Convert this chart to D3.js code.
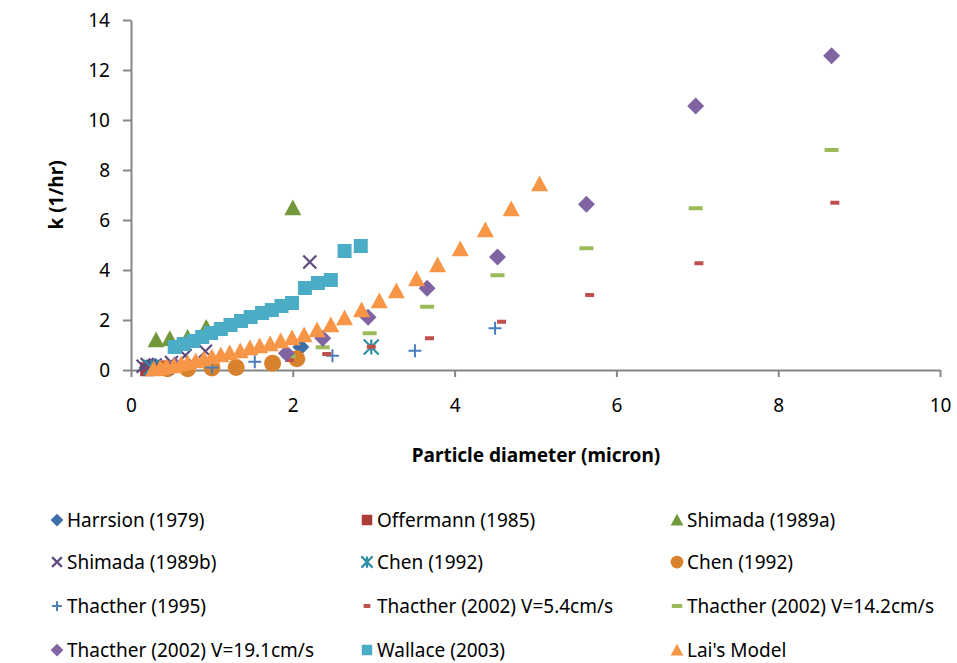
<!DOCTYPE html>
<meta charset="utf-8">
<script src="https://d3js.org/d3.v7.min.js"></script>
<title>k vs particle diameter</title>
<style>
body { margin: 0; background: #fff; font-family: "Noto Sans", Arial, sans-serif; }
.axis path, .axis line { stroke: #868686; stroke-width: 2px; }
.axis text { font-size: 19px; fill: #000; font-family: "Noto Sans", Arial, sans-serif; }
.title { font-size: 19px; font-weight: bold; fill: #000; }
.legend text { font-size: 19px; fill: #000; }
</style>
<body>
<svg id="chart" width="957" height="663"></svg>
<script>

// [particle diameter (micron), k (1/hr)]
var harrsion1979 = [[0.2, 0.1], [0.3, 0.15], [0.45, 0.1], [2.1, 0.92]];
var offermann1985 = [[0.2, 0.03], [0.28, 0.05], [0.35, 0.06], [0.45, 0.1]];
var shimada1989a = [[0.31, 1.2], [0.48, 1.25], [0.7, 1.3], [0.93, 1.7], [2.0, 6.48]];
var shimada1989b = [[0.15, 0.15], [0.2, 0.22], [0.25, 0.1], [0.3, 0.2], [0.5, 0.3], [0.67, 0.58], [0.92, 0.75], [2.21, 4.32]];
var chen1992a = [[0.25, 0.1], [2.97, 0.92]];
var chen1992b = [[0.45, 0.05], [0.7, 0.05], [1.0, 0.08], [1.3, 0.1], [1.75, 0.27], [2.05, 0.45]];
var thatcher1995 = [[0.5, 0.05], [1.0, 0.1], [1.53, 0.33], [2.49, 0.57], [3.51, 0.77], [4.5, 1.67]];
var thatcher2002v54 = [[1.96, 0.4], [2.42, 0.64], [2.97, 0.93], [3.69, 1.27], [4.58, 1.93], [5.67, 3.0], [7.02, 4.27], [8.7, 6.69]];
var thatcher2002v142 = [[1.95, 0.55], [2.37, 0.91], [2.95, 1.47], [3.66, 2.53], [4.53, 3.79], [5.63, 4.87], [6.98, 6.47], [8.66, 8.8]];
var thatcher2002v191 = [[0.54, 0.2], [1.92, 0.67], [2.37, 1.27], [2.93, 2.11], [3.66, 3.27], [4.53, 4.52], [5.63, 6.63], [6.98, 10.56], [8.66, 12.57]];
var wallace2003 = [[0.54, 0.92], [0.65, 1.04], [0.77, 1.16], [0.88, 1.32], [0.99, 1.48], [1.11, 1.64], [1.23, 1.8],
  [1.36, 1.96], [1.48, 2.12], [1.62, 2.28], [1.74, 2.4], [1.86, 2.56], [1.99, 2.68], [2.15, 3.28], [2.31, 3.48],
  [2.47, 3.6], [2.64, 4.76], [2.84, 4.96]];
var laiModel = [[0.28, 0.04], [0.36, 0.08], [0.44, 0.12], [0.53, 0.16], [0.62, 0.24], [0.7, 0.28], [0.8, 0.36],
  [0.9, 0.44], [1.0, 0.52], [1.11, 0.6], [1.22, 0.68], [1.35, 0.76], [1.47, 0.88], [1.59, 0.96], [1.72, 1.04],
  [1.85, 1.16], [1.99, 1.28], [2.14, 1.4], [2.3, 1.6], [2.47, 1.8], [2.64, 2.08], [2.85, 2.4], [3.07, 2.76],
  [3.28, 3.16], [3.53, 3.64], [3.79, 4.2], [4.07, 4.84], [4.38, 5.6], [4.7, 6.44], [5.05, 7.44]];

var xTicks = [0, 2, 4, 6, 8, 10];
var yTicks = [0, 2, 4, 6, 8, 10, 12, 14];

var series = [
  {name: "Harrsion (1979)", data: harrsion1979, shape: "diamond", color: "#3d6ea9"},
  {name: "Offermann (1985)", data: offermann1985, shape: "square", color: "#aa3b37"},
  {name: "Shimada (1989a)", data: shimada1989a, shape: "triangle", color: "#71983b"},
  {name: "Shimada (1989b)", data: shimada1989b, shape: "x", color: "#5f4a7f"},
  {name: "Chen (1992)", data: chen1992a, shape: "star", color: "#2f8fa5"},
  {name: "Chen (1992)", data: chen1992b, shape: "circle", color: "#d9822e"},
  {name: "Thacther (1995)", data: thatcher1995, shape: "plus", color: "#4a7ebb"},
  {name: "Thacther (2002) V=5.4cm/s", data: thatcher2002v54, shape: "dashS", color: "#c0504d"},
  {name: "Thacther (2002) V=14.2cm/s", data: thatcher2002v142, shape: "dashL", color: "#9bbb59"},
  {name: "Thacther (2002) V=19.1cm/s", data: thatcher2002v191, shape: "diamond", color: "#8064a2"},
  {name: "Wallace (2003)", data: wallace2003, shape: "square", color: "#4bacc6"},
  {name: "Lai's Model", data: laiModel, shape: "triangle", color: "#f79646"}
];

var svg = d3.select("#chart");

var x = d3.scaleLinear().domain([0, 10]).range([131, 940]);
var y = d3.scaleLinear().domain([0, 14]).range([370, 20]);

svg.append("g")
    .attr("class", "y axis")
    .attr("transform", "translate(" + x(0) + ",0)")
    .call(d3.axisLeft(y).tickValues(yTicks).tickSize(8).tickSizeOuter(0).tickPadding(13));

svg.append("g")
    .attr("class", "x axis")
    .attr("transform", "translate(0," + y(0) + ")")
    .call(d3.axisBottom(x).tickValues(xTicks).tickSize(7).tickSizeOuter(0).tickPadding(22));

// marker drawing, sizes in px
function drawMarker(g, shape, color, s) {
  s = s || 1;
  if (shape == "diamond") {
    var r = 8.5 * s;
    g.append("path").attr("d", "M0," + (-r) + "L" + r + ",0L0," + r + "L" + (-r) + ",0Z").attr("fill", color);
  } else if (shape == "square") {
    var h = 7 * s;
    g.append("rect").attr("x", -h).attr("y", -h).attr("width", 2 * h).attr("height", 2 * h).attr("fill", color);
  } else if (shape == "triangle") {
    var t = 8.5 * s;
    g.append("path").attr("d", "M0," + (-t) + "L" + t + "," + (t * 0.85) + "L" + (-t) + "," + (t * 0.85) + "Z").attr("fill", color);
  } else if (shape == "circle") {
    g.append("circle").attr("r", 8.5 * s).attr("fill", color);
  } else if (shape == "x") {
    var a = 6.5 * s;
    g.append("path").attr("d", "M" + (-a) + "," + (-a) + "L" + a + "," + a + "M" + (-a) + "," + a + "L" + a + "," + (-a))
      .attr("stroke", color).attr("stroke-width", 2.2);
  } else if (shape == "star") {
    var b = 7.5 * s;
    g.append("path").attr("d", "M" + (-b) + "," + (-b) + "L" + b + "," + b + "M" + (-b) + "," + b + "L" + b + "," + (-b) + "M0," + (-b) + "L0," + b)
      .attr("stroke", color).attr("stroke-width", 2.2);
  } else if (shape == "plus") {
    var p = 6.5 * s;
    g.append("path").attr("d", "M" + (-p) + ",0L" + p + ",0M0," + (-p) + "L0," + p)
      .attr("stroke", color).attr("stroke-width", 2);
  } else if (shape == "dashS") {
    g.append("rect").attr("x", -4.5 * s).attr("y", -2).attr("width", 9 * s).attr("height", 4).attr("fill", color);
  } else if (shape == "dashL") {
    g.append("rect").attr("x", -7 * s).attr("y", -2).attr("width", 14 * s).attr("height", 4).attr("fill", color);
  }
}

var plot = svg.append("g");
series.forEach(function(sr) {
  plot.append("g").selectAll("g")
      .data(sr.data)
    .enter().append("g")
      .attr("transform", function(d) { return "translate(" + x(d[0]) + "," + y(d[1]) + ")"; })
      .each(function() { drawMarker(d3.select(this), sr.shape, sr.color, 1); });
});

svg.append("text")
    .attr("class", "title")
    .attr("transform", "translate(63," + y(7) + ") rotate(-90)")
    .attr("text-anchor", "middle")
    .text("k (1/hr)");

svg.append("text")
    .attr("class", "title")
    .attr("x", 536)
    .attr("y", 462)
    .attr("text-anchor", "middle")
    .text("Particle diameter (micron)");

// legend: 3 columns, 4 rows
var legend = svg.append("g").attr("class", "legend");
var colX = [57, 367, 677], rowY = [520, 562, 606, 650];
series.forEach(function(sr, i) {
  var lg = legend.append("g")
      .attr("transform", "translate(" + colX[i % 3] + "," + rowY[Math.floor(i / 3)] + ")");
  var lm = lg.append("g");
  drawMarker(lm, sr.shape, sr.color, 0.75);
  lg.append("text")
      .attr("x", 10)
      .attr("dy", "0.35em")
      .text(sr.name);
});

</script>
</body>
